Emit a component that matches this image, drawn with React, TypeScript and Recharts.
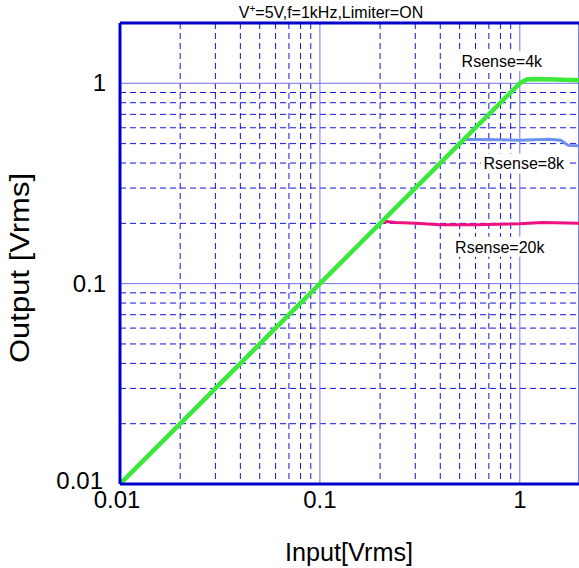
import React from "react";
import {
  LineChart,
  Line,
  XAxis,
  YAxis,
  CartesianGrid,
  ReferenceLine,
  ReferenceDot,
} from "recharts";

// ---- data ----
const xTicks = [0.01, 0.1, 1];
const yTicks = [0.01, 0.1, 1];
const tickLabels = ["0.01", "0.1", "1"];
const minorGrid = [
  0.02, 0.03, 0.04, 0.05, 0.06, 0.07, 0.08, 0.09,
  0.2, 0.3, 0.4, 0.5, 0.6, 0.7, 0.8, 0.9,
];

const in4k = [0.01, 0.1, 0.2, 0.5, 1.0, 1.08, 1.2, 1.5, 2.0];
const out4k = [0.01, 0.1, 0.2, 0.5, 1.0, 1.045, 1.05, 1.045, 1.035];

const in8k = [0.5, 0.53, 0.6, 0.8, 1.0, 1.4, 1.6, 1.75, 2.0];
const out8k = [0.5, 0.525, 0.524, 0.522, 0.52, 0.525, 0.52, 0.49, 0.488];

const in20k = [0.2, 0.215, 0.24, 0.3, 0.4, 0.6, 1.0, 1.3, 2.0];
const out20k = [0.2, 0.204, 0.202, 0.2, 0.197, 0.197, 0.199, 0.202, 0.2];

const seriesNames = ["Rsense=4k", "Rsense=8k", "Rsense=20k"];
const labelX = [0.813, 1.047, 0.794];
const labelY = [1.29, 0.398, 0.153];

const zip = (xs: number[], ys: number[]) => xs.map((x, i) => ({ x, y: ys[i] }));
const data4k = zip(in4k, out4k);
const data8k = zip(in8k, out8k);
const data20k = zip(in20k, out20k);

const FONT = "Arial, 'Liberation Sans', Helvetica, sans-serif";
const BORDER = "#0000cc";
const MAJOR = "#7070ee";
const MINOR = "#1414d8";

const XTick = (props: any) => {
  const { x, payload, index } = props;
  const shift = index === 0 ? -3 : 0;
  return (
    <text x={x + shift} y={508} textAnchor="middle" fontSize={24} fontFamily={FONT} fill="#000">
      {tickLabels[xTicks.indexOf(payload.value)] ?? String(payload.value)}
    </text>
  );
};

const YTick = (props: any) => {
  const { y, payload } = props;
  const isBottom = payload.value === 0.01;
  return (
    <text
      x={isBottom ? 103 : 106}
      y={isBottom ? y + 5 : y + 8}
      textAnchor="end"
      fontSize={24}
      fontFamily={FONT}
      fill="#000"
    >
      {tickLabels[yTicks.indexOf(payload.value)] ?? String(payload.value)}
    </text>
  );
};

const makeLabel = (text: string, w: number) => (props: any) => {
  const { cx, cy } = props;
  return (
    <g>
      <rect x={cx - w / 2} y={cy - 10} width={w} height={20} fill="#fff" />
      <text x={cx} y={cy + 6} textAnchor="middle" fontSize={16} fontFamily={FONT} fill="#000">
        {text}
      </text>
    </g>
  );
};

const labelWidths = [86, 86, 96];

export default function App() {
  return (
    <div style={{ position: "absolute", left: 0, top: 0, width: 579, height: 568, overflow: "hidden", background: "#fff" }}>
      <LineChart
        width={590}
        height={568}
        margin={{ top: 23, right: 10, bottom: 0, left: 0 }}
      >
        <CartesianGrid
          stroke={MINOR}
          strokeWidth={1}
          strokeDasharray="6 4"
          horizontalValues={minorGrid}
          verticalValues={minorGrid}
        />
        <CartesianGrid
          stroke={MAJOR}
          strokeWidth={1}
          horizontalValues={yTicks}
          verticalValues={xTicks}
        />
        <XAxis
          dataKey="x"
          type="number"
          scale="log"
          domain={[0.01, 2]}
          allowDataOverflow
          ticks={xTicks}
          height={84}
          tickLine={false}
          axisLine={{ stroke: BORDER, strokeWidth: 3 }}
          tick={<XTick />}
          interval={0}
        />
        <YAxis
          type="number"
          scale="log"
          domain={[0.01, 2]}
          allowDataOverflow
          ticks={yTicks}
          width={120}
          tickLine={false}
          axisLine={{ stroke: BORDER, strokeWidth: 3 }}
          tick={<YTick />}
          interval={0}
        />
        <ReferenceLine y={2} stroke={BORDER} strokeWidth={3} />
        <ReferenceLine x={2} stroke={BORDER} strokeWidth={3} />
        <Line data={data20k} dataKey="y" stroke="#ee1080" strokeWidth={3} dot={false} isAnimationActive={false} type="linear" />
        <Line data={data8k} dataKey="y" stroke="#6e8ef0" strokeWidth={3} dot={false} isAnimationActive={false} type="linear" />
        <Line data={data4k} dataKey="y" stroke="#3ce83a" strokeWidth={4.5} dot={false} isAnimationActive={false} type="linear" />
        {seriesNames.map((name, i) => (
          <ReferenceDot
            key={name}
            x={labelX[i]}
            y={labelY[i]}
            r={0}
            shape={makeLabel(name, labelWidths[i])}
          />
        ))}
      </LineChart>
      <svg
        width={579}
        height={568}
        style={{ position: "absolute", left: 0, top: 0, pointerEvents: "none" }}
      >
        <text x={331} y={18} textAnchor="middle" fontSize={16} fontFamily={FONT} fill="#000">
          V<tspan dy={-6} fontSize={10}>+</tspan>
          <tspan dy={6} fontSize={16}>=5V,f=1kHz,Limiter=ON</tspan>
        </text>
        <text
          x={349}
          y={561}
          textAnchor="middle"
          fontSize={26}
          fontFamily={FONT}
          fill="#000"
          textLength={128}
          lengthAdjust="spacingAndGlyphs"
        >
          Input[Vrms]
        </text>
        <text
          x={29}
          y={268}
          textAnchor="middle"
          fontSize={27}
          fontFamily={FONT}
          fill="#000"
          transform="rotate(-90 29 268)"
          textLength={190}
          lengthAdjust="spacingAndGlyphs"
        >
          Output [Vrms]
        </text>
      </svg>
    </div>
  );
}
